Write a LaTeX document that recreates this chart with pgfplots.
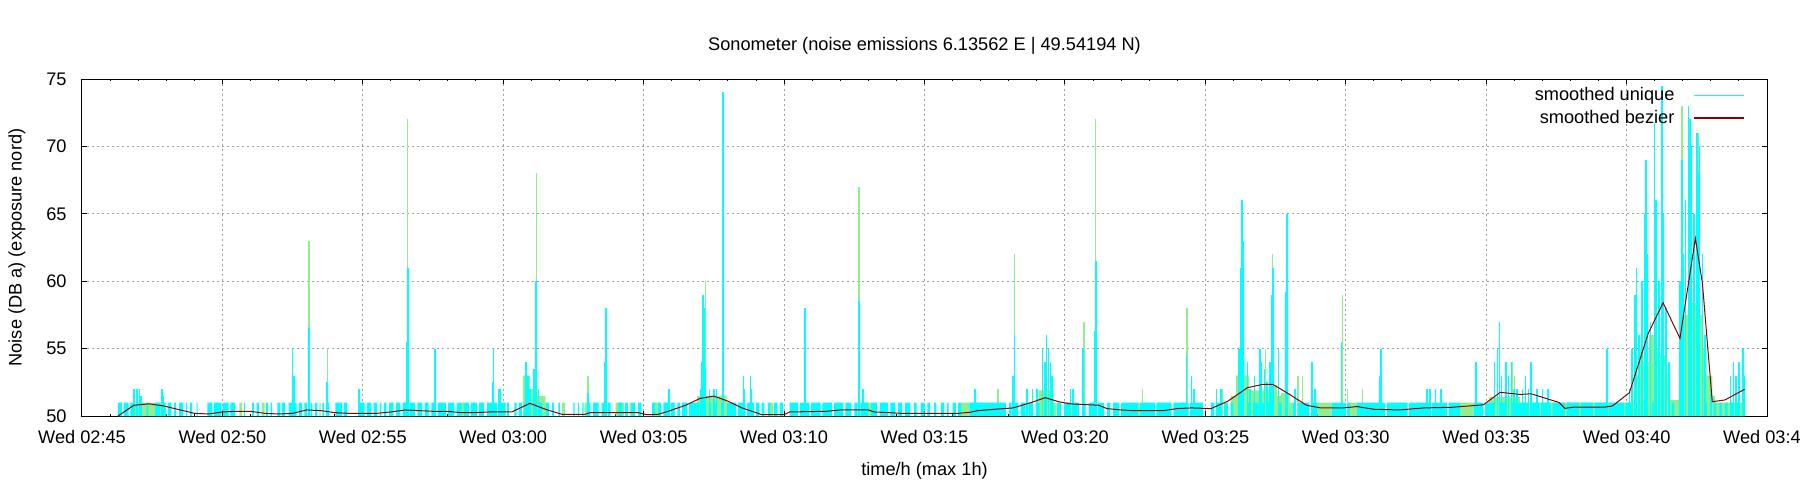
\documentclass[border=0pt]{standalone}
\usepackage{pgfplots}
\pgfplotsset{compat=1.18}
\usepackage{fontspec}
\setmainfont{Liberation Sans}
\usetikzlibrary{calc}
\definecolor{cy}{RGB}{0,255,255}
\definecolor{lg}{RGB}{144,238,144}
\definecolor{dr}{RGB}{139,0,0}
\definecolor{gr}{RGB}{160,160,160}
\newcommand{\f}{\fontsize{9.1}{11}\selectfont}
\begin{document}
\begin{tikzpicture}
\begin{axis}[
 name=ax,
 scale only axis, width=842.5pt, height=168.5pt,
 xmin=0, xmax=60, ymin=50, ymax=75,
 xtick={0,5,...,60},
 xticklabels={Wed 02:45,Wed 02:50,Wed 02:55,Wed 03:00,Wed 03:05,Wed 03:10,Wed 03:15,Wed 03:20,Wed 03:25,Wed 03:30,Wed 03:35,Wed 03:40,Wed 03:45},
 minor x tick num=4,
 ytick={50,55,...,75},
 tick pos=both, tick align=inside,
 major tick length=2.5pt, minor tick length=1.2pt,
 grid=major, grid style={gr, dash pattern=on 1pt off 1.5pt, line width=0.5pt},
 axis line style={line width=0.5pt},
 every tick/.style={black, line width=0.5pt},
 /pgf/number format/assume math mode=true,
 tick label style={font=\f},
 xticklabel style={anchor=center, yshift=-10.5pt},
 yticklabel style={anchor=east, inner sep=0pt, xshift=-7.5pt},
 every axis title shift=0pt,
 title={Sonometer (noise emissions 6.13562 E | 49.54194 N)},
 title style={font=\f, at={(0.5,1.0979)}, anchor=center, yshift=0pt},
 xlabel={time/h (max 1h)}, xlabel style={font=\f, at={(0.5,-0.1632)}, anchor=center},
 ylabel={Noise (DB a) (exposure nord)}, ylabel style={font=\f, at={(-0.03858,0.5)}, anchor=center},
 legend cell align=right,
 legend plot pos=right,
 legend image code/.code={\draw[#1] (0pt,0pt) -- (25pt,0pt);},
 legend style={draw=none, fill=none, at={(1,1)}, anchor=north east, xshift=-11pt, yshift=-2pt,
   inner sep=0pt, font=\f, row sep=-0.8pt, /tikz/column sep=7.5pt},
]
% green area
\addplot[forget plot, draw=none, fill=lg, const plot mark left] coordinates {
(1.28,50)(1.35,51)(1.42,50)(1.8,51)(2.9,50.6)(3.0,50)(3.5,51)(3.56,50)(5.6,51)(5.7,50)(6.4,51)(6.5,50)(8.45,51)(8.5,50)(11.0,51)(11.1,50)(12.0,51)(12.06,50)(13.5,51)(13.6,50)(14.2,51)(14.26,50)(15.0,51)(15.1,50)(15.7,53)(15.95,52)(16.15,51.5)(16.5,50)(17.1,51)(17.2,50)(17.9,51)(18.0,50)(19.0,51)(19.3,50)(19.5,51)(19.6,50)(20.4,51)(20.5,50)(21.0,51)(21.1,50)(21.9,51.5)(22.95,51)(23.1,50)(24.5,51)(24.6,50)(25.3,51)(25.4,50)(27.0,51)(27.1,50)(27.8,51)(28.1,50)(28.5,51)(28.6,50)(31.3,51)(31.6,50)(34.05,51.9)(34.6,51)(34.7,50)(35.05,51)(35.4,50)(36.0,51)(36.1,50)(37.6,51)(37.66,50)(38.3,51)(38.4,50)(40.9,51.5)(41.1,53)(41.2,54.4)(41.4,53)(41.55,52)(41.65,51.9)(42.3,52.3)(42.55,51.5)(42.7,51.7)(43.0,51)(43.1,50)(44.0,51)(44.5,50)(45.15,51)(45.4,50)(49.07,51)(49.55,50)(50.1,51.4)(51.2,51)(55.25,53)(55.4,55)(55.6,54)(55.8,56)(56.0,55)(56.2,54.5)(56.4,53)(56.55,51.2)(56.9,56)(57.05,57.5)(57.25,58.4)(57.5,57.5)(57.7,55)(57.85,53)(58.05,51.5)(58.15,51)(59.22,50)
} \closedcycle;
% green spikes
\addplot[forget plot, ycomb, color=lg, line width=0.6pt] coordinates {
(8.08,63)(8.73,55)(11.6,72)(15.9,53)(16.17,68)(18.02,53)(22.2,60)(27.67,67)(32.62,52)(33.2,62)(35.65,57)(35.68,57)(36.1,72)(37.75,52)(39.35,58)(40.6,52)(41.3,61)(42.15,55)(42.4,62)(43.3,53)(43.45,53)(44.87,59)(45.05,52)(45.6,52)(49.64,54)(50.7,54)(50.95,54)(51.0,53)(55.35,61)(55.7,69)(56.97,73)(57.55,71)
};
% cyan band
\addplot[forget plot, draw=none, fill=cy, const plot mark left] coordinates {
(1.28,51)(1.42,50)(1.48,51)(1.66,50)(1.72,51)(1.84,50)(2.02,51)(2.08,50)(2.3,51)(2.36,50)(2.6,51)(2.78,50)(2.84,51)(2.98,50)(3.06,51)(3.18,50)(3.28,51)(3.34,50)(3.46,51)(3.6,50)(3.7,51)(3.74,50)(3.84,51)(3.92,50)(4.08,51)(4.12,50)(4.46,51)(4.64,50)(4.7,51)(4.96,50)
(5.02,51)(5.22,50)(5.28,51)(5.44,50)(5.76,51)(5.8,50)(6.06,51)(6.12,50)(6.22,51)(6.3,50)(6.56,51)(6.62,50)(6.72,51)(6.76,50)(6.96,51)(7.06,50)(7.12,51)(7.22,50)(7.36,51)(7.48,50)(7.56,51)(7.64,50)(7.72,51)(7.84,50)(7.92,51)(8.02,50)(8.14,51)(8.2,50)(8.3,51)(8.38,50)(8.56,51)(8.62,50)(8.72,51)(8.8,50)(9.02,51)(9.26,50)(9.32,51)(9.44,50)(9.86,51)(10.06,50)
(10.14,51)(10.3,50)(10.38,51)(10.5,50)(10.6,51)(10.66,50)(10.76,51)(10.84,50)(10.94,51)(11.08,50)(11.18,51)(11.34,50)(11.42,51)(11.56,50)(11.66,51)(11.86,50)(11.94,51)(12.12,50)(12.2,51)(12.34,50)(12.44,51)(12.56,50)(12.66,51)(12.96,50)(13.04,51)(13.26,50)(13.34,51)(13.52,50)(13.6,51)(13.78,50)(13.84,51)(14.06,50)(14.14,51)(14.32,50)(14.42,51)(14.78,50)(14.84,51)(15.06,50)
(15.14,51)(15.2,50)(15.4,51)(15.48,50)(15.56,51)(15.66,50)(15.74,51)(15.8,50)(16.22,51)(16.38,50)(16.5,51)(16.62,50)(16.74,51)(16.8,50)(16.96,51)(17.02,50)(17.5,51)(17.54,50)(17.66,51)(17.7,50)(17.82,51)(17.86,50)(18.0,51)(18.1,50)(18.2,51)(18.4,50)(18.5,51)(18.62,50)(18.72,51)(18.82,50)(19.1,51)(19.24,50)(19.34,51)(19.44,50)(19.56,51)(19.7,50)(19.8,51)(19.92,50)
(20.3,51)(20.4,50)(20.5,51)(20.62,50)(20.7,51)(20.86,50)(20.96,51)(21.1,50)(21.2,51)(21.3,50)(21.36,51)(21.56,50)(21.62,51)(21.98,50)(22.06,51)(22.14,50)(22.32,51)(22.4,50)(22.5,51)(22.6,50)(22.76,51)(22.82,50)(22.96,51)(23.3,50)(23.36,51)(23.62,50)(23.68,51)(23.92,50)(24.0,51)(24.12,50)(24.2,51)(24.3,50)(24.42,51)(24.5,50)(24.64,51)(24.76,50)(24.84,51)(24.96,50)
(25.2,51)(25.5,50)(25.56,51)(25.9,50)(25.96,51)(26.3,50)(26.36,51)(26.7,50)(26.78,51)(27.1,50)(27.18,51)(27.4,50)(27.5,51)(27.62,50)(27.72,51)(28.0,50)(28.1,51)(28.3,50)(28.4,51)(28.7,50)(28.78,51)(28.96,50)(29.06,51)(29.2,50)(29.3,51)(29.5,50)(29.62,51)(29.72,50)(29.86,51)(30.0,50)
(30.1,51)(30.2,50)(30.34,51)(30.42,50)(30.58,51)(30.7,50)(30.8,51)(30.86,50)(31.0,51)(31.12,50)(31.2,51)(31.3,50)(31.6,51)(32.9,50)(33.0,51)(33.1,50)(33.2,51)(33.34,50)(33.42,51)(33.6,50)(33.7,51)(33.86,50)(33.96,51)(34.1,50)(34.5,51)(34.6,50)(34.72,51)(34.86,50)(34.96,51)(35.2,50)
(35.3,51)(35.5,50)(35.62,51)(35.74,50)(35.84,51)(36.06,50)(36.16,51)(36.4,50)(36.5,51)(36.62,50)(36.72,51)(36.94,50)(37.0,51)(37.6,50)(37.66,51)(38.2,50)(38.26,51)(38.8,50)(38.86,51)(39.4,50)(39.46,51)(39.92,50)
(40.2,51)(40.32,50)(40.42,51)(40.56,50)(40.66,51)(40.8,50)(40.9,51)(41.0,50)(41.5,51)(41.6,50)(41.7,51)(41.9,50)(42.0,51)(42.12,50)(42.2,51)(42.3,50)(42.62,51)(42.72,50)(43.1,51)(43.2,50)(43.3,51)(43.7,50)(43.76,51)(44.0,50)(44.5,51)(45.0,50)
(45.06,51)(45.15,50)(45.4,51)(46.4,50)(46.46,51)(47.2,50)(47.26,51)(48.0,50)(48.06,51)(48.6,50)(48.66,51)(49.07,50)(49.55,51)(49.9,50)(49.96,51)(50.3,50)(50.5,51)(50.7,50)(50.9,51)(51.5,50)
(51.56,51)(51.9,50)(51.96,51)(52.3,50)(52.36,51)(52.8,50)(52.86,51)(53.3,50)(53.36,51)(53.8,50)(53.86,51)(54.3,50)(54.36,51)(54.9,50)(54.96,51)(55.2,50)(55.5,51)(55.56,50)(55.9,51)(55.96,50)(56.6,51)(56.7,50)(57.8,51)(57.86,50)(58.1,51)(58.2,50)(58.3,51)(58.4,50)(58.5,51)(58.6,50)(58.7,51)(58.8,50)(58.9,51)(59.0,50)(59.1,51)(59.2,50)
} \closedcycle;
% cyan spikes
\addplot[forget plot, ycomb, color=cy, line width=0.8pt] coordinates {
(1.85,52)(1.95,52)(2.05,52)(2.1,51.5)(2.85,52)(2.9,51.5)
(7.5,55)(7.55,53)(8.06,53.3)(8.08,56.5)(8.73,52.5)(9.84,51.5)(9.86,52)(11.55,55.5)(11.6,61)(12.55,53)(12.57,55)(14.63,52.5)(14.65,55)(14.85,52)(14.9,52)
(15.8,54)(15.85,52.5)(15.88,53)(15.95,52)(16.1,53.5)(16.15,57)(16.17,60)(16.25,52)(18.02,51.7)(18.62,54)(18.66,58)(20.9,52)(22.05,52)(22.08,54)(22.12,59)(22.15,58)(22.2,53.5)(22.35,52)(22.5,52)(22.6,52)(22.8,62.4)(22.83,74)(23.55,53)(23.58,52)(23.8,53)(23.83,52)(25.72,54.5)(25.75,58)(27.67,58.5)(27.8,52)
(31.8,52)(33.15,53)(33.2,56)(33.65,52)(33.85,52)(34.0,52)(34.2,55)(34.28,54)(34.35,56)(34.42,55)(34.48,54)(34.55,53)(35.2,52)(35.28,52)(35.65,55)(36.05,56.3)(36.1,61.5)(39.33,54.5)(39.5,53)(39.6,52)(40.4,52)(40.55,52)
(41.2,55)(41.25,57.5)(41.28,61)(41.3,66)(41.33,63)(41.5,54)(41.6,52)(41.75,53)(41.95,55)(42.0,54)(42.1,53.5)(42.2,52.5)(42.3,54)(42.38,59)(42.4,61)(42.6,55)(42.85,56)(42.88,59.2)(42.9,65)(43.2,52)(43.8,54)(43.9,52)(44.85,55.5)(46.2,53)(46.26,55)(47.9,52)(48.0,52)(48.2,52)(48.4,52)(49.64,54)
(50.3,54)(50.4,55)(50.47,57)(50.55,53)(50.7,54)(50.8,53)(50.9,54)(51.0,52)(51.1,52)
(51.3,52)(51.4,53)(51.5,52)(51.6,54)(51.8,52)(52.0,52)(52.2,52)(54.3,55)
(55.1,52)(55.2,55)(55.3,59)(55.35,61)(55.45,56)(55.55,60)(55.65,65)(55.7,69)(55.75,62)(55.85,57)(56.0,71.7)(56.05,66)(56.15,60)(56.25,74.5)(56.3,65)(56.4,58)(56.5,54)(56.9,60)(56.97,69)(57.0,62)(57.1,66)(57.2,73)(57.25,72)(57.3,70)(57.4,65)(57.5,71)(57.55,68)(57.6,70)(57.7,62)(57.8,56)(58.0,52)
(58.7,53)(58.8,54)(58.9,53)(59.0,54)(59.15,55)(59.2,53)
};
% bezier
\addplot[forget plot, color=dr, line width=0.5pt, sharp plot] coordinates {
(1.28,50.0)(1.85,50.8)(2.4,50.9)(2.9,50.75)(3.5,50.45)(4.0,50.2)(4.5,50.15)(5.0,50.3)(5.5,50.35)(6.0,50.35)(6.5,50.2)(7.0,50.15)(7.5,50.2)(8.0,50.45)(8.5,50.4)(9.0,50.25)(9.5,50.2)(10.0,50.2)(10.5,50.2)(11.0,50.3)(11.5,50.45)(12.0,50.4)(12.5,50.35)(13.0,50.35)(13.5,50.25)(14.0,50.25)(14.5,50.3)(15.3,50.3)(15.95,50.94)(16.5,50.5)(17.1,50.12)(17.9,50.12)(18.1,50.25)(19.8,50.25)(20.1,50.1)(20.5,50.12)(20.8,50.3)(21.5,50.8)(22.0,51.3)(22.5,51.48)(23.0,51.1)(23.5,50.6)(24.0,50.25)(24.2,50.1)(25.0,50.1)(25.2,50.3)(26.5,50.35)(27.0,50.45)(28.0,50.45)(28.2,50.3)(29.2,50.2)(31.2,50.2)(31.6,50.27)(31.9,50.4)(32.5,50.5)(33.15,50.6)(33.8,51.0)(34.3,51.36)(34.8,51.05)(35.2,50.9)(36.2,50.8)(36.5,50.55)(37.0,50.45)(37.4,50.4)(38.5,50.4)(39.0,50.55)(39.5,50.6)(40.2,50.55)(40.8,51.1)(41.5,52.1)(42.05,52.35)(42.4,52.35)(43.0,51.6)(43.6,50.8)(44.1,50.6)(44.9,50.6)(45.4,50.7)(46.0,50.5)(46.9,50.45)(47.8,50.6)(48.8,50.65)(49.9,50.83)(50.5,51.76)(51.2,51.6)(51.6,51.65)(52.6,51.0)(52.8,50.57)(53.1,50.65)(54.2,50.65)(54.5,50.75)(55.1,51.73)(55.77,56.13)(56.3,58.4)(56.9,55.76)(57.45,63.18)(57.7,59.84)(58.05,51.06)(58.5,51.19)(59.2,51.98)
};
\addlegendimage{color=cy, line width=0.6pt}
\addlegendentry{smoothed unique}
\addlegendimage{color=dr, line width=0.6pt}
\addlegendentry{smoothed bezier}
\end{axis}
\pgfresetboundingbox
\path[use as bounding box] ($(ax.south west)+(-41pt,-42pt)$) rectangle ($(ax.north east)+(16.5pt,39.5pt)$);
\end{tikzpicture}
\end{document}
